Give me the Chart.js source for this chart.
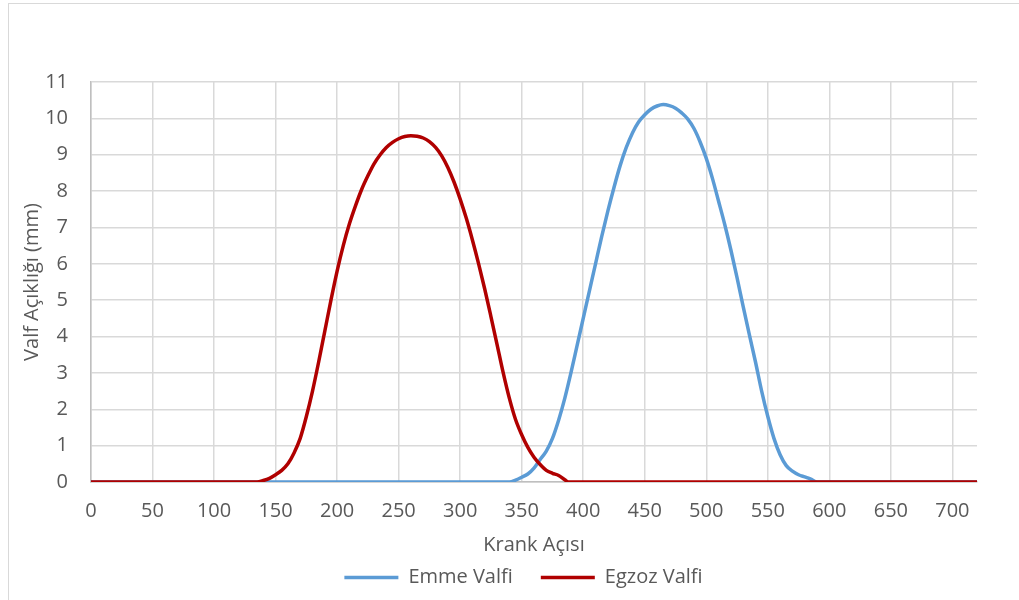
<!DOCTYPE html>
<html>
<head>
<meta charset="utf-8">
<title>Valf Açıklığı</title>
<script src="https://cdn.jsdelivr.net/npm/chart.js@4.4.1/dist/chart.umd.min.js"></script>
<style>
  html, body { margin: 0; padding: 0; background: #fff; }
  #wrap { position: relative; width: 1019px; height: 600px; overflow: hidden; }
  #frame { position: absolute; left: 8px; top: 3px; width: 1100px; height: 700px;
           border-left: 1px solid #d9d9d9; border-top: 1px solid #d9d9d9; }
  canvas { position: absolute; left: 0; top: 0; }
</style>
</head>
<body>
<div id="wrap">
  <div id="frame"></div>
  <canvas id="valveChart" width="1019" height="600"></canvas>
</div>
<script>
// crank angle (deg) vs valve lift (mm)
const intakeAngles = [0, 100, 200, 300, 340, 345, 350, 355, 360, 365, 370, 375, 380, 385, 390, 395,
  400, 405, 410, 415, 420, 425, 430, 435, 440, 445, 450, 455, 460, 465, 470, 475, 480, 485,
  490, 495, 500, 505, 510, 515, 520, 525, 530, 535, 540, 545, 550, 555, 560, 565, 570, 575,
  580, 585, 590, 650, 720];
const intakeLift = [0, 0, 0, 0, 0, 0.05, 0.13, 0.22, 0.38, 0.62, 0.85, 1.2, 1.7, 2.3, 3.0, 3.75,
  4.5, 5.25, 6.0, 6.75, 7.45, 8.1, 8.7, 9.2, 9.6, 9.9, 10.1, 10.25, 10.34, 10.38, 10.35, 10.28, 10.15, 9.98,
  9.72, 9.35, 8.9, 8.35, 7.72, 7.08, 6.38, 5.62, 4.82, 4.05, 3.3, 2.5, 1.8, 1.2, 0.75, 0.45, 0.3, 0.2,
  0.14, 0.08, 0, 0, 0];

const exhaustAngles = [0, 50, 100, 135, 140, 145, 150, 155, 160, 165, 170, 175, 180, 185, 190, 195,
  200, 205, 210, 215, 220, 225, 230, 235, 240, 245, 250, 255, 260, 265, 270, 275, 280, 285,
  290, 295, 300, 305, 310, 315, 320, 325, 330, 335, 340, 345, 350, 355, 360, 365, 370, 375,
  380, 385, 388, 450, 550, 650, 720];
const exhaustLift = [0, 0, 0, 0, 0.04, 0.1, 0.2, 0.32, 0.5, 0.8, 1.2, 1.8, 2.5, 3.3, 4.15, 5.0,
  5.8, 6.5, 7.1, 7.6, 8.05, 8.42, 8.75, 9.0, 9.2, 9.34, 9.44, 9.5, 9.52, 9.51, 9.46, 9.36, 9.2, 8.97,
  8.65, 8.25, 7.78, 7.25, 6.65, 6.0, 5.3, 4.55, 3.78, 3.0, 2.3, 1.72, 1.3, 0.95, 0.68, 0.48, 0.32, 0.24,
  0.18, 0.06, 0, 0, 0, 0, 0];

const xTicks = [0, 50, 100, 150, 200, 250, 300, 350, 400, 450, 500, 550, 600, 650, 700];

const pairs = (xs, ys) => xs.map((x, i) => ({ x, y: ys[i] }));

const FONT = '"Open Sans", Lato, sans-serif';
const TXT = '#595959';
const GRID = '#d9d9d9';

new Chart(document.getElementById('valveChart'), {
  type: 'line',
  data: {
    datasets: [
      {
        label: 'Emme Valfi',
        data: pairs(intakeAngles, intakeLift),
        borderColor: '#5b9bd5',
        backgroundColor: '#5b9bd5',
        borderWidth: 3.5,
        pointRadius: 0,
        cubicInterpolationMode: 'monotone',
        order: 1
      },
      {
        label: 'Egzoz Valfi',
        data: pairs(exhaustAngles, exhaustLift),
        borderColor: '#b00000',
        backgroundColor: '#b00000',
        borderWidth: 3.5,
        pointRadius: 0,
        cubicInterpolationMode: 'monotone',
        order: 0
      }
    ]
  },
  options: {
    responsive: false,
    animation: false,
    // legend sits a bit right of the plot centre, so the side gutters come from scales
    layout: { padding: { top: 82, right: 0, left: 28, bottom: 2.5 } },
    plugins: {
      tooltip: { enabled: false },
      legend: {
        position: 'bottom',
        labels: {
          font: { family: FONT, size: 20 },
          color: TXT,
          usePointStyle: true,
          pointStyle: 'line',
          pointStyleWidth: 54,
          padding: 28,
          sort: (a, b) => a.datasetIndex - b.datasetIndex
        }
      }
    },
    scales: {
      x: {
        type: 'linear',
        min: 0,
        max: 720,
        afterBuildTicks: s => { s.ticks = xTicks.map(v => ({ value: v })); },
        afterFit: s => { s.height = 57.5; },
        ticks: { font: { family: FONT, size: 20 }, color: TXT, padding: 17, maxRotation: 0 },
        grid: { color: GRID, lineWidth: 1.5, drawTicks: false },
        border: { color: '#bfbfbf', width: 1.5 },
        title: {
          display: true,
          text: 'Krank Açısı',
          font: { family: FONT, size: 20 },
          color: TXT,
          padding: { top: 0, bottom: -17.5 }
        }
      },
      y: {
        min: 0,
        max: 11,
        afterFit: s => { s.width = 63; },
        ticks: { stepSize: 1, font: { family: FONT, size: 20 }, color: TXT, padding: 23 },
        grid: { color: GRID, lineWidth: 1.5, drawTicks: false },
        border: { color: '#bfbfbf', width: 1.5 },
        title: {
          display: true,
          text: 'Valf Açıklığı (mm)',
          font: { family: FONT, size: 20 },
          color: TXT,
          padding: { top: -8, bottom: 0 }
        }
      },
      // empty gutter on the right of the plot
      gutter: {
        type: 'linear',
        position: 'right',
        afterFit: s => { s.width = 42; },
        ticks: { display: false },
        grid: { display: false },
        border: { display: false }
      }
    }
  }
});
</script>
</body>
</html>
